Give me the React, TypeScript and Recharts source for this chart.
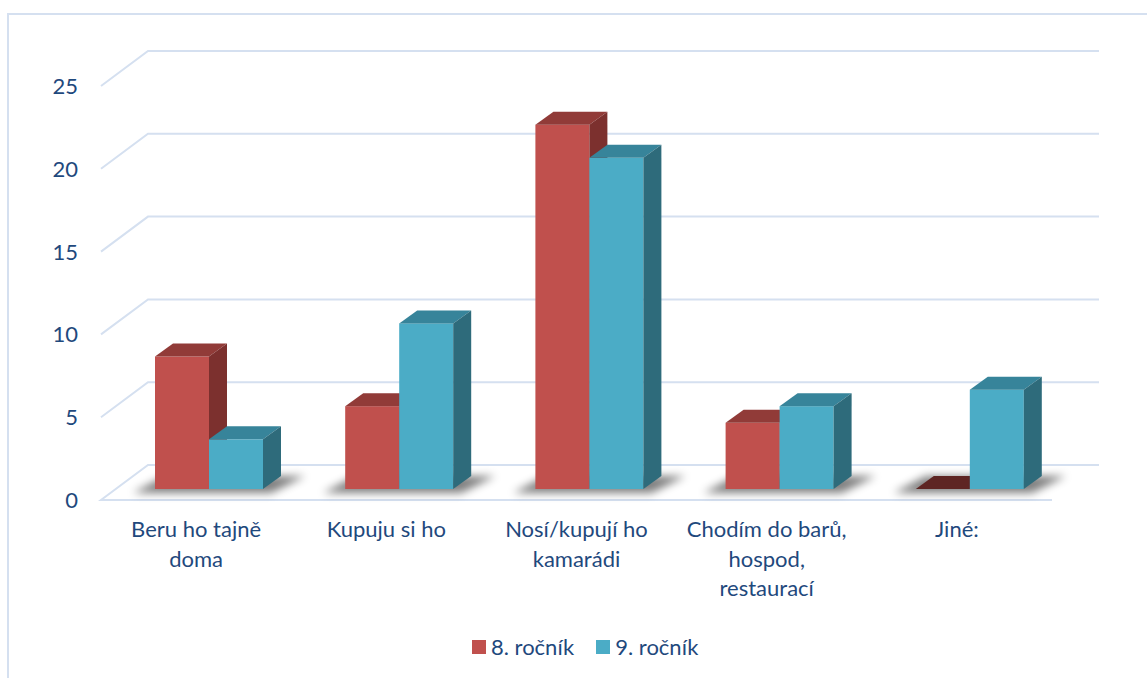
import React from 'react';
import { BarChart, Bar, XAxis, YAxis, CartesianGrid, Legend } from 'recharts';

const categories = [
  'Beru ho tajně doma',
  'Kupuju si ho',
  'Nosí/kupují ho kamarádi',
  'Chodím do barů, hospod, restaurací',
  'Jiné:',
];
const grade8 = [8, 5, 22, 4, 0];
const grade9 = [3, 10, 20, 5, 6];
const yTicks = [0, 5, 10, 15, 20, 25];
const seriesNames = ['8. ročník', '9. ročník'];

const data = categories.map((c, i) => ({ name: c, g8: grade8[i], g9: grade9[i] }));

const FONT = 'Lato, "Open Sans", sans-serif';
const TEXT = '#1f497d';
const GRID = '#d5e0f0';

// depth offsets
const WALL_DX = 47;
const WALL_DY = -35;
const BAR_SX = 13;
const BAR_SY = -11;
const DX = 18;
const DY = -13;

const RED = { front: '#c0504d', top: '#913b38', side: '#7c302e', flat: '#5e2523' };
const CYAN = { front: '#4bacc6', top: '#37849a', side: '#2e6b7b', flat: '#24586a' };

function wrap(label: string, max = 15): string[] {
  const words = label.split(' ');
  const lines: string[] = [];
  let cur = '';
  for (const w of words) {
    const t = cur ? cur + ' ' + w : w;
    if (t.length > max && cur) {
      lines.push(cur);
      cur = w;
    } else cur = t;
  }
  if (cur) lines.push(cur);
  return lines;
}

function Box(props: any) {
  const { x, y, width, height, faces, shadow, index } = props;
  if (x == null || y == null) return null;
  const l = x + BAR_SX;
  const t = y + BAR_SY;
  const w = width;
  const h = Math.max(0, height);
  const b = t + h;
  const r = l + w;
  const els: any[] = [];
  if (shadow) {
    const pr = l + 2 * w;
    els.push(
      <polygon
        key="sh"
        points={`${l - 22},${b + 4} ${pr + 8},${b + 4} ${pr + DX + 24},${b + DY} ${l + DX - 8},${b + DY}`}
        fill="#000"
        opacity={0.5}
        filter="url(#barShadow)"
      />
    );
  }
  if (h < 0.5) {
    els.push(
      <polygon
        key="flat"
        points={`${l},${b} ${l + DX},${b + DY} ${r + DX},${b + DY} ${r},${b}`}
        fill={faces.flat}
      />
    );
  } else {
    els.push(<rect key="f" x={l} y={t} width={w} height={h} fill={faces.front} />);
    els.push(
      <polygon
        key="t"
        points={`${l},${t} ${l + DX},${t + DY} ${r + DX},${t + DY} ${r},${t}`}
        fill={faces.top}
      />
    );
    els.push(
      <polygon
        key="s"
        points={`${r},${t} ${r + DX},${t + DY} ${r + DX},${b + DY} ${r},${b}`}
        fill={faces.side}
      />
    );
  }
  return (
    <g>
      {shadow && index === 0 ? (
        <defs>
          <filter id="barShadow" x="-50%" y="-200%" width="200%" height="500%">
            <feGaussianBlur stdDeviation="4.5" />
          </filter>
        </defs>
      ) : null}
      {els}
    </g>
  );
}

function GridLine(props: any) {
  const { x1, x2, y1, index } = props;
  const y = y1;
  const isZero = Math.abs(y - 500) < 2;
  const d = isZero
    ? `M${x2},${y} L${x1},${y} L${x1 + WALL_DX},${y + WALL_DY} L${x2 + WALL_DX},${y + WALL_DY}`
    : `M${x1},${y} L${x1 + WALL_DX},${y + WALL_DY} L${x2 + WALL_DX},${y + WALL_DY}`;
  return <path key={`g-${index}`} d={d} stroke={GRID} strokeWidth={2} fill="none" />;
}

function YTick(props: any) {
  const { x, y, payload } = props;
  return (
    <text x={x} y={y} dy="0.36em" textAnchor="end" fill={TEXT} fontFamily={FONT} fontSize={22}>
      {payload.value}
    </text>
  );
}

function XTick(props: any) {
  const { x, y, payload } = props;
  const lines = wrap(String(payload.value));
  return (
    <text x={x} y={y + 37} textAnchor="middle" fill={TEXT} fontFamily={FONT} fontSize={22}>
      {lines.map((ln, i) => (
        <tspan key={i} x={x} dy={i === 0 ? 0 : 29.5}>
          {ln}
        </tspan>
      ))}
    </text>
  );
}

function LegendContent(props: any) {
  const { payload } = props;
  return (
    <div style={{ display: 'flex', alignItems: 'center', fontFamily: FONT, fontSize: 22, color: TEXT, whiteSpace: 'nowrap' }}>
      {(payload || []).map((p: any, i: number) => (
        <div key={i} style={{ display: 'flex', alignItems: 'center', marginRight: 22 }}>
          <span style={{ display: 'inline-block', width: 14, height: 14, background: p.color, marginRight: 5 }} />
          <span>{p.value}</span>
        </div>
      ))}
    </div>
  );
}

export default function App() {
  return (
    <div style={{ position: 'absolute', left: 0, top: 0, width: 1147, height: 678, overflow: 'hidden', background: '#fff' }}>
      <div
        style={{
          position: 'absolute',
          left: 7,
          top: 13,
          width: 1150,
          height: 680,
          borderLeft: `2px solid ${GRID}`,
          borderTop: `2px solid ${GRID}`,
        }}
      />
      <div style={{ position: 'absolute', left: 0, top: 0 }}>
        <BarChart
          width={1147}
          height={678}
          data={data}
          margin={{ top: 86, right: 95, left: 0, bottom: 0 }}
          barGap={0}
          barSize={54}
        >
          <CartesianGrid vertical={false} horizontal={GridLine as any} />
          <XAxis
            dataKey="name"
            height={178}
            axisLine={false}
            tickLine={false}
            tickSize={0}
            tickMargin={0}
            interval={0}
            tick={<XTick />}
          />
          <YAxis
            width={101}
            domain={[0, 25]}
            ticks={yTicks}
            axisLine={false}
            tickLine={false}
            tickSize={0}
            tickMargin={23}
            tick={<YTick />}
          />
          <Legend
            layout="horizontal"
            verticalAlign="middle"
            align="center"
            content={<LegendContent />}
            wrapperStyle={{ left: 472, top: 633, width: 'auto' }}
          />
          <Bar
            dataKey="g8"
            name={seriesNames[0]}
            fill={RED.front}
            isAnimationActive={false}
            shape={(p: any) => <Box {...p} faces={RED} shadow />}
          />
          <Bar
            dataKey="g9"
            name={seriesNames[1]}
            fill={CYAN.front}
            isAnimationActive={false}
            shape={(p: any) => <Box {...p} faces={CYAN} />}
          />
        </BarChart>
      </div>
    </div>
  );
}
